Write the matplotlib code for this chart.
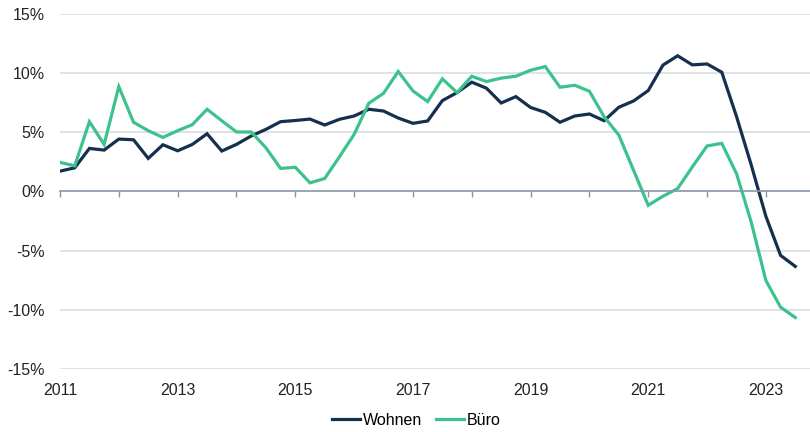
import numpy as np
import matplotlib
matplotlib.use("Agg")
import matplotlib.pyplot as plt

# Quartalswerte 2011 Q1 - 2023 Q3
start_jahr = 2011
wohnen = [
    1.72, 2.0, 3.64, 3.5,
    4.43, 4.37, 2.8, 3.95,
    3.44, 3.98, 4.88, 3.42,
    3.98, 4.69, 5.25, 5.9,
    6.0, 6.12, 5.62, 6.1,
    6.38, 6.95, 6.8, 6.21,
    5.76, 5.96, 7.68, 8.36,
    9.24, 8.73, 7.48, 8.02,
    7.1, 6.69, 5.85, 6.38,
    6.55, 5.98, 7.12, 7.65,
    8.53, 10.68, 11.47, 10.7,
    10.78, 10.08, 6.35, 2.26,
    -2.1, -5.4, -6.33,
]
buero = [
    2.46, 2.17, 5.9, 3.98,
    8.86, 5.85, 5.14, 4.57,
    5.14, 5.65, 6.95, 5.98,
    5.03, 5.03, 3.7, 1.95,
    2.05, 0.73, 1.1, 2.93,
    4.83, 7.46, 8.3, 10.14,
    8.5, 7.6, 9.52, 8.36,
    9.74, 9.29, 9.58, 9.74,
    10.25, 10.56, 8.81, 8.98,
    8.47, 6.32, 4.77, 1.8,
    -1.16, -0.4, 0.25, 2.08,
    3.85, 4.07, 1.52, -2.57,
    -7.52, -9.78, -10.65,
]
serien = ["Wohnen", "Büro"]
farben = ["#15304f", "#3cc28c"]
jahr_labels = ["2011", "2013", "2015", "2017", "2019", "2021", "2023"]

x = start_jahr + np.arange(len(wohnen)) / 4

plt.rcParams["font.family"] = ["Liberation Sans", "DejaVu Sans"]
plt.rcParams["font.size"] = 11.5

fig = plt.figure(figsize=(8.1, 4.32), dpi=100)
ax = fig.add_axes([60 / 810, 1 - 369 / 432, 750 / 810, 355 / 432])

for werte, name, farbe in zip([wohnen, buero], serien, farben):
    ax.plot(x, werte, color=farbe, lw=2.3, label=name, solid_joinstyle="miter")

ax.set_xlim(2011, 2023.75)
ax.set_ylim(-15, 15)
ax.set_yticks(range(-15, 16, 5))
ax.set_yticklabels([f"{v}%" for v in range(-15, 16, 5)], color="#222222")
ax.tick_params(axis="y", length=0, pad=11)
for v in range(-15, 16, 5):
    if v != 0:
        ax.axhline(v, color="#d9dde2", lw=1.2, zorder=0)

for s in ["top", "right", "left"]:
    ax.spines[s].set_visible(False)
ax.spines["bottom"].set_position(("data", 0))
ax.spines["bottom"].set_color("#8a95a5")
ax.spines["bottom"].set_linewidth(1.2)
ax.set_xticks(range(2011, 2024))
ax.tick_params(axis="x", direction="out", length=4, color="#8a95a5",
               width=1, labelbottom=False)

# Jahreslabels unten
sec = ax.secondary_xaxis("bottom")
sec.set_xticks([int(j) for j in jahr_labels])
sec.set_xticklabels(jahr_labels, color="#222222")
sec.tick_params(length=0, pad=10)
sec.spines["bottom"].set_visible(False)

fig.legend(loc="center", bbox_to_anchor=(0.514, 0.027), ncol=2, frameon=False,
           handlelength=1.75, handletextpad=0.15, columnspacing=0.9)

fig.savefig("out.png", dpi=100)
